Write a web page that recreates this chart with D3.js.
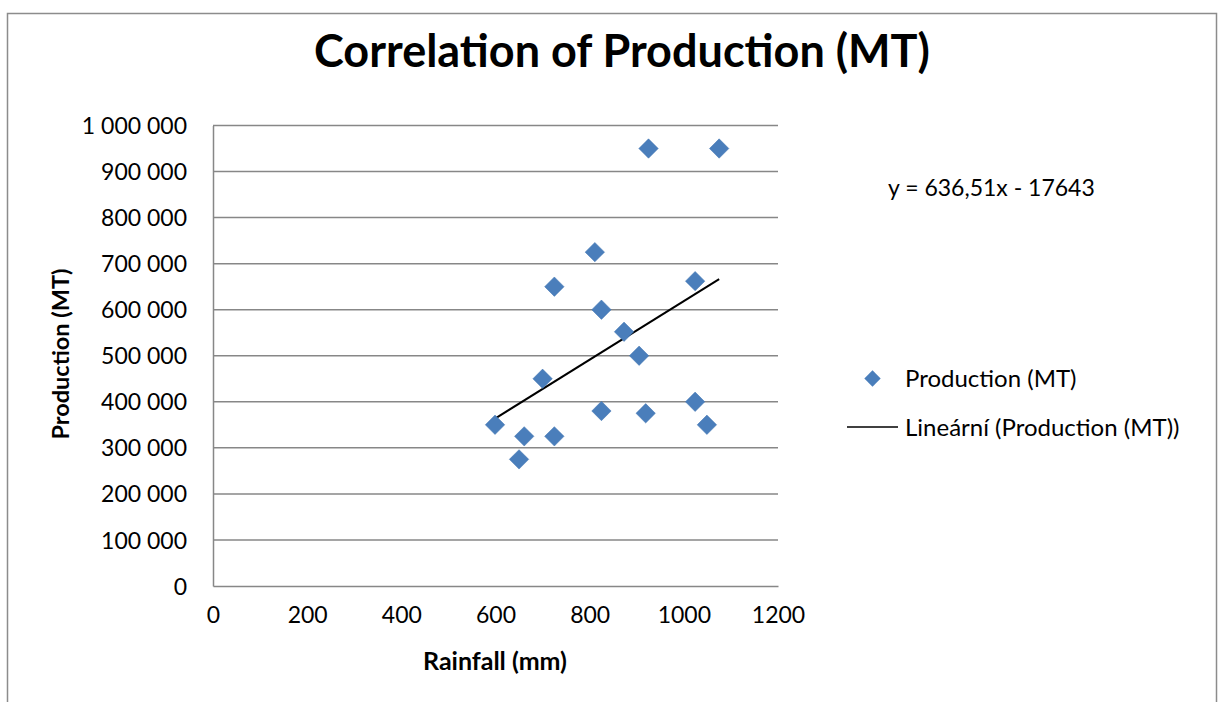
<!DOCTYPE html>
<html><head><meta charset="utf-8">
<script src="https://cdn.jsdelivr.net/npm/d3@7"></script>
<style>html,body{margin:0;padding:0;background:#fff;} svg{display:block;font-family:Lato,"Open Sans",sans-serif;}</style>
</head><body>
<svg id="chart" width="1222" height="702"></svg>
<script>
const rainfall = [925, 1075, 811, 725, 1024, 825, 873, 905, 700, 599, 661, 725, 650, 825, 919, 1024, 1049];
const production = [950000, 950000, 725000, 650000, 662000, 600000, 552000, 500000, 450000, 350000, 325000, 325000, 275000, 380000, 375000, 400000, 350000];
const xTicks = [0, 200, 400, 600, 800, 1000, 1200];
const yTicks = [0, 100000, 200000, 300000, 400000, 500000, 600000, 700000, 800000, 900000, 1000000];
const trendSlope = 636.51, trendIntercept = -17643;
const titleText = "Correlation of Production (MT)";
const seriesName = "Production (MT)";
const trendName = "Lineární (Production (MT))";
const eqText = "y = 636,51x - 17643";

const svg = d3.select("#chart");
const L = 213, R = 778, T = 125.5, B = 586;
const x = d3.scaleLinear().domain([0, 1200]).range([L, R]);
const y = d3.scaleLinear().domain([0, 1000000]).range([B, T]);
const grid = "#878787";

svg.append("rect").attr("x", 7.5).attr("y", 13.5).attr("width", 1209).attr("height", 720)
  .attr("fill", "#fff").attr("stroke", "#8c8c8c").attr("stroke-width", 1.5);

// gridlines
svg.append("g").selectAll("line").data(yTicks.filter(d => d > 0)).join("line")
  .attr("x1", L).attr("x2", R).attr("y1", d => y(d)).attr("y2", d => y(d))
  .attr("stroke", grid).attr("stroke-width", 1.5);

// axes
const yAxis = svg.append("g").attr("transform", `translate(${L},0)`)
  .call(d3.axisLeft(y).tickValues(yTicks).tickSize(0).tickPadding(26).tickFormat(d => d3.format(",")(d).replace(/,/g, " ")));
const xAxis = svg.append("g").attr("transform", `translate(0,${B})`)
  .call(d3.axisBottom(x).tickValues(xTicks).tickSize(0).tickPadding(21).tickFormat(d3.format("d")));
[xAxis, yAxis].forEach(g => {
  g.select(".domain").attr("stroke", grid).attr("stroke-width", 1.5);
  g.selectAll("text").attr("font-size", 23).attr("fill", "#000").attr("font-family", "Lato");
});
yAxis.selectAll("text").attr("dy", "0.35em");
xAxis.selectAll("text").attr("dy", "0.71em");

// trendline
const xr = d3.extent(rainfall);
svg.append("line")
  .attr("x1", x(xr[0])).attr("y1", y(trendSlope * xr[0] + trendIntercept))
  .attr("x2", x(xr[1])).attr("y2", y(trendSlope * xr[1] + trendIntercept))
  .attr("stroke", "#000").attr("stroke-width", 2);

// points
const diamond = d3.symbol().type(d3.symbolDiamond2).size(240);
svg.append("g").selectAll("path").data(rainfall.map((r, i) => [r, production[i]])).join("path")
  .attr("d", diamond)
  .attr("transform", d => `translate(${x(d[0])},${y(d[1])})`)
  .attr("fill", "#4a7ebb").attr("stroke", "#3f73b0").attr("stroke-width", 0.5);

// title
svg.append("text").attr("x", 622).attr("y", 67).attr("text-anchor", "middle")
  .attr("font-size", 45).attr("font-weight", "bold").text(titleText);

// axis titles
svg.append("text").attr("x", 495).attr("y", 670).attr("text-anchor", "middle")
  .attr("font-size", 25).attr("font-weight", "bold").text("Rainfall (mm)");
svg.append("text").attr("transform", "translate(69,354) rotate(-90)").attr("text-anchor", "middle")
  .attr("font-size", 23.5).attr("font-weight", "bold").text("Production (MT)");

// equation
svg.append("text").attr("x", 888).attr("y", 196).attr("font-size", 23).text(eqText);

// legend
svg.append("path").attr("d", d3.symbol().type(d3.symbolDiamond2).size(170)())
  .attr("transform", "translate(872.5,378.5)").attr("fill", "#4a7ebb");
svg.append("text").attr("x", 905).attr("y", 387).attr("font-size", 24).text(seriesName);
svg.append("line").attr("x1", 847).attr("x2", 898).attr("y1", 427).attr("y2", 427)
  .attr("stroke", "#000").attr("stroke-width", 1.5);
svg.append("text").attr("x", 905).attr("y", 436).attr("font-size", 24).text(trendName);
</script>
</body></html>
